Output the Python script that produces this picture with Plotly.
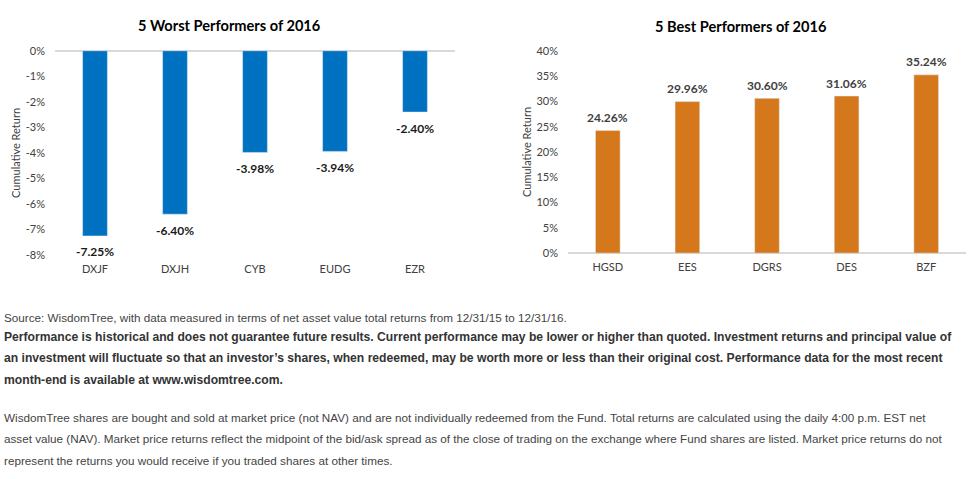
import plotly.graph_objects as go

W, H = 968, 479

worst_tickers = ["DXJF", "DXJH", "CYB", "EUDG", "EZR"]
worst_values = [-7.25, -6.40, -3.98, -3.94, -2.40]
best_tickers = ["HGSD", "EES", "DGRS", "DES", "BZF"]
best_values = [24.26, 29.96, 30.60, 31.06, 35.24]

worst_title = "5 Worst Performers of 2016"
best_title = "5 Best Performers of 2016"
axis_title = "Cumulative Return"
worst_ticks = [0, -1, -2, -3, -4, -5, -6, -7, -8]
best_ticks = [0, 5, 10, 15, 20, 25, 30, 35, 40]

footnote_source = "Source: WisdomTree, with data measured in terms of net asset value total returns from 12/31/15 to 12/31/16."
footnote_bold = [
    "Performance is historical and does not guarantee future results. Current performance may be lower or higher than quoted. Investment returns and principal value of",
    "an investment will fluctuate so that an investor\u2019s shares, when redeemed, may be worth more or less than their original cost. Performance data for the most recent",
    "month-end is available at www.wisdomtree.com.",
]
footnote_plain = [
    "WisdomTree shares are bought and sold at market price (not NAV) and are not individually redeemed from the Fund. Total returns are calculated using the daily 4:00 p.m. EST net",
    "asset value (NAV). Market price returns reflect the midpoint of the bid/ask spread as of the close of trading on the exchange where Fund shares are listed. Market price returns do not",
    "represent the returns you would receive if you traded shares at other times.",
]

CH_FONT = "Lato, 'Open Sans', sans-serif"
BLUE = "#0070C0"
ORANGE = "#D5781C"

def px(x):
    return x / W

def py(y):
    return 1 - y / H

fig = go.Figure()
fig.add_trace(go.Bar(
    x=worst_tickers, y=worst_values, marker_color=BLUE,
    xaxis="x", yaxis="y", showlegend=False,
))
fig.add_trace(go.Bar(
    x=best_tickers, y=best_values, marker_color=ORANGE,
    xaxis="x2", yaxis="y2", showlegend=False,
))

tickfont = dict(family=CH_FONT, size=11, color="#404040")
fig.update_layout(
    width=W, height=H,
    margin=dict(l=0, r=0, t=0, b=0),
    paper_bgcolor="white", plot_bgcolor="white",
    bargap=0.69,
    xaxis=dict(domain=[px(55), px(455)], anchor="y", showline=False, ticks="",
               tickfont=tickfont, showgrid=False, ticklabelstandoff=6),
    yaxis=dict(domain=[py(255), py(45)], range=[-8, 0], tickvals=worst_ticks,
               ticktext=[f"{v}%" for v in worst_ticks], showgrid=False,
               zeroline=True, zerolinecolor="#d9d9d9", zerolinewidth=1.5,
               tickfont=tickfont, ticks="", ticklabelstandoff=9),
    xaxis2=dict(domain=[px(568), px(966)], anchor="y2", showline=False, ticks="",
                tickfont=tickfont, showgrid=False, ticklabelstandoff=6),
    yaxis2=dict(domain=[py(253), py(45)], range=[0, 40], tickvals=best_ticks,
                ticktext=[f"{v}%" for v in best_ticks], showgrid=False,
                zeroline=True, zerolinecolor="#d9d9d9", zerolinewidth=1.5,
                tickfont=tickfont, ticks="", ticklabelstandoff=9, anchor="x2"),
)

ann = []
# data labels, positioned via the axes
for t, v in zip(worst_tickers, worst_values):
    ann.append(dict(x=t, y=v, xref="x", yref="y", text=f"<b>{v:.2f}%</b>", showarrow=False,
                    yanchor="middle", yshift=-16,
                    font=dict(family=CH_FONT, size=12, color="#1a1a1a")))
for t, v in zip(best_tickers, best_values):
    ann.append(dict(x=t, y=v, xref="x2", yref="y2", text=f"<b>{v:.2f}%</b>", showarrow=False,
                    yanchor="middle", yshift=13,
                    font=dict(family=CH_FONT, size=12, color="#404040")))

def add(x, y, text, size, color, family=CH_FONT, angle=0, xanchor="center"):
    ann.append(dict(x=px(x), y=py(y), text=text, showarrow=False, textangle=angle,
                    xref="paper", yref="paper", xanchor=xanchor, yanchor="middle",
                    font=dict(family=family, size=size, color=color)))

add(229, 19, f"<b>{worst_title}</b>", 14.6, "#000")
add(740, 20, f"<b>{best_title}</b>", 14.6, "#000")
add(16, 150, axis_title, 11, "#404040", angle=-90)
add(527, 149, axis_title, 11, "#404040", angle=-90)

FN = "'Liberation Sans', Arial, sans-serif"
add(2, 319, footnote_source, 11.7, "#444444", family=FN, xanchor="left")
for i, t in enumerate(footnote_bold):
    add(2, 339 + 22 * i, f"<b>{t}</b>", 12.15, "#333333", family=FN, xanchor="left")
for i, t in enumerate(footnote_plain):
    add(2, 422 + 22 * i, t, 11.7, "#444444", family=FN, xanchor="left")
fig.update_layout(annotations=ann)

fig.write_html("out.html")
